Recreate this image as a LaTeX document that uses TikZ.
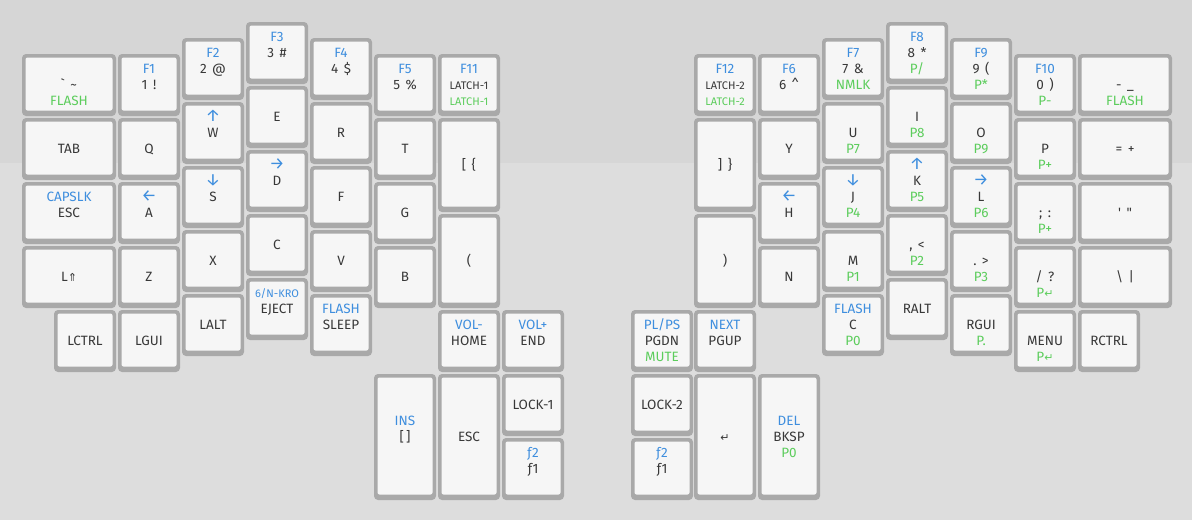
\documentclass[tikz,border=0pt]{standalone}
\usepackage{fontspec}
\newfontfamily\kf{Fira Sans}
\newfontfamily\symf{DejaVu Sans}
\newcommand\sy[1]{{\symf\fontsize{11}{11}\selectfont #1}}
\newcommand\ar[1]{{\fontsize{17}{17}\selectfont #1}}
\newcommand\gp{\hspace{5.5pt}}
\definecolor{bgA}{HTML}{D6D6D6}
\definecolor{bgB}{HTML}{DDDDDD}
\definecolor{keyrim}{HTML}{A9A9A9}
\definecolor{keyface}{HTML}{F6F6F6}
\definecolor{ktxt}{HTML}{383838}
\definecolor{kblue}{HTML}{3E8EDE}
\definecolor{kgreen}{HTML}{5CCD5C}
\tikzset{
  keyout/.style={draw=none, fill=keyrim, rounded corners=4pt, inner sep=0pt, outer sep=0pt},
  keyfc/.style={fill=keyface, rounded corners=2pt},
  lab/.style={inner sep=0pt, text height=9pt, text depth=0pt, anchor=center,
              font=\kf\fontsize{13.5}{13.5}\selectfont},
  labt/.style={lab, text=kblue, yshift=16.5pt},
  labm/.style={lab, text=ktxt, yshift=0.5pt},
  labb/.style={lab, text=kgreen, yshift=-15.5pt},
}
\newcommand\sm[1]{{\fontsize{11}{11}\selectfont #1}}
% name, x, y, w, h, top(blue), mid(dark), bottom(green)
\newcommand\kk[8]{%
  \node[keyout, minimum width=#4pt, minimum height=#5pt] (#1) at (#2+#4/2,#3+#5/2) {};
  \fill[keyfc] ([xshift=3.5pt,yshift=-3.5pt]#1.north west) rectangle ([xshift=-3.5pt,yshift=5.5pt]#1.south east);
  \if\relax\detokenize{#6}\relax\else\node[labt] (#1-t) at (#1.center) {#6};\fi
  \if\relax\detokenize{#7}\relax\else\node[labm] (#1-m) at (#1.center) {#7};\fi
  \if\relax\detokenize{#8}\relax\else\node[labb] (#1-b) at (#1.center) {#8};\fi
}
\begin{document}
\begin{tikzpicture}[x=1pt,y=-1pt]
\useasboundingbox (0,0) rectangle (1192,520);
\fill[bgA] (0,0) rectangle (1192,163);
\fill[bgB] (0,163) rectangle (1192,520);
% ---------- left half ----------
\kk{grave}{22}{54}{94}{62}{}{\symbol{96}\gp\textasciitilde}{FLASH}
\kk{f1}{118}{54}{62}{62}{F1}{1\gp!}{}
\kk{f2}{182}{38}{62}{62}{F2}{2\gp@}{}
\kk{f3}{246}{22}{62}{62}{F3}{3\gp\#}{}
\kk{f4}{310}{38}{62}{62}{F4}{4\gp\$}{}
\kk{f5}{374}{54}{62}{62}{F5}{5\gp\%}{}
\kk{f11}{438}{54}{62}{62}{F11}{\sm{LATCH-1}}{\sm{LATCH-1}}
\kk{tab}{22}{118}{94}{62}{}{TAB}{}
\kk{q}{118}{118}{62}{62}{}{Q}{}
\kk{w}{182}{102}{62}{62}{\ar{↑}}{W}{}
\kk{e}{246}{86}{62}{62}{}{E}{}
\kk{r}{310}{102}{62}{62}{}{R}{}
\kk{t}{374}{118}{62}{62}{}{T}{}
\kk{lbr}{438}{118}{62}{94}{}{[\gp\{}{}
\kk{esc}{22}{182}{94}{62}{CAPSLK}{ESC}{}
\kk{a}{118}{182}{62}{62}{\ar{←}}{A}{}
\kk{s}{182}{166}{62}{62}{\ar{↓}}{S}{}
\kk{d}{246}{150}{62}{62}{\ar{→}}{D}{}
\kk{f}{310}{166}{62}{62}{}{F}{}
\kk{g}{374}{182}{62}{62}{}{G}{}
\kk{lsh}{22}{246}{94}{62}{}{L\sy{⇑}}{}
\kk{z}{118}{246}{62}{62}{}{Z}{}
\kk{x}{182}{230}{62}{62}{}{X}{}
\kk{c}{246}{214}{62}{62}{}{C}{}
\kk{v}{310}{230}{62}{62}{}{V}{}
\kk{b}{374}{246}{62}{62}{}{B}{}
\kk{lpar}{438}{214}{62}{94}{}{(}{}
\kk{lctrl}{54}{310}{62}{62}{}{LCTRL}{}
\kk{lgui}{118}{310}{62}{62}{}{LGUI}{}
\kk{lalt}{182}{294}{62}{62}{}{LALT}{}
\kk{eject}{246}{278}{62}{62}{\sm{6/N-KRO}}{EJECT}{}
\kk{sleep}{310}{294}{62}{62}{FLASH}{SLEEP}{}
\kk{home}{438}{310}{62}{62}{VOL-}{HOME}{}
\kk{end}{502}{310}{62}{62}{VOL+}{END}{}
\kk{ins}{374}{374}{62}{126}{INS}{[\,]}{}
\kk{lesc}{438}{374}{62}{126}{}{ESC}{}
\kk{lock1}{502}{374}{62}{62}{}{LOCK-1}{}
\kk{lfn}{502}{438}{62}{62}{ƒ2}{ƒ1}{}
% ---------- right half ----------
\kk{f12}{694}{54}{62}{62}{F12}{\sm{LATCH-2}}{\sm{LATCH-2}}
\kk{f6}{758}{54}{62}{62}{F6}{6\gp\textasciicircum}{}
\kk{f7}{822}{38}{62}{62}{F7}{7\gp\&}{NMLK}
\kk{f8}{886}{22}{62}{62}{F8}{8\gp*}{P/}
\kk{f9}{950}{38}{62}{62}{F9}{9\gp(}{P*}
\kk{f10}{1014}{54}{62}{62}{F10}{0\gp)}{P-}
\kk{minus}{1078}{54}{94}{62}{}{-\gp\_}{FLASH}
\kk{rbr}{694}{118}{62}{94}{}{]\gp\}}{}
\kk{y}{758}{118}{62}{62}{}{Y}{}
\kk{u}{822}{102}{62}{62}{}{U}{P7}
\kk{i}{886}{86}{62}{62}{}{I}{P8}
\kk{o}{950}{102}{62}{62}{}{O}{P9}
\kk{p}{1014}{118}{62}{62}{}{P}{P+}
\kk{eq}{1078}{118}{94}{62}{}{=\gp+}{}
\kk{rpar}{694}{214}{62}{94}{}{)}{}
\kk{h}{758}{182}{62}{62}{\ar{←}}{H}{}
\kk{j}{822}{166}{62}{62}{\ar{↓}}{J}{P4}
\kk{k}{886}{150}{62}{62}{\ar{↑}}{K}{P5}
\kk{l}{950}{166}{62}{62}{\ar{→}}{L}{P6}
\kk{semi}{1014}{182}{62}{62}{}{;\gp:}{P+}
\kk{quote}{1078}{182}{94}{62}{}{'\gp"}{}
\kk{n}{758}{246}{62}{62}{}{N}{}
\kk{m}{822}{230}{62}{62}{}{M}{P1}
\kk{comma}{886}{214}{62}{62}{}{,\gp<}{P2}
\kk{dot}{950}{230}{62}{62}{}{.\gp>}{P3}
\kk{slash}{1014}{246}{62}{62}{}{/\gp?}{P\sy{↵}}
\kk{bsl}{1078}{246}{94}{62}{}{\textbackslash\gp|}{}
\kk{cflash}{822}{294}{62}{62}{FLASH}{C}{P0}
\kk{ralt}{886}{278}{62}{62}{}{RALT}{}
\kk{rgui}{950}{294}{62}{62}{}{RGUI}{P.}
\kk{menu}{1014}{310}{62}{62}{}{MENU}{P\sy{↵}}
\kk{rctrl}{1078}{310}{62}{62}{}{RCTRL}{}
\kk{pgdn}{631}{310}{62}{62}{PL/PS}{PGDN}{MUTE}
\kk{pgup}{694}{310}{62}{62}{NEXT}{PGUP}{}
\kk{lock2}{631}{374}{62}{62}{}{LOCK-2}{}
\kk{rfn}{631}{438}{62}{62}{ƒ2}{ƒ1}{}
\kk{enter}{694}{374}{62}{126}{}{\sy{↵}}{}
\kk{bksp}{758}{374}{62}{126}{DEL}{BKSP}{P0}
\end{tikzpicture}
\end{document}
